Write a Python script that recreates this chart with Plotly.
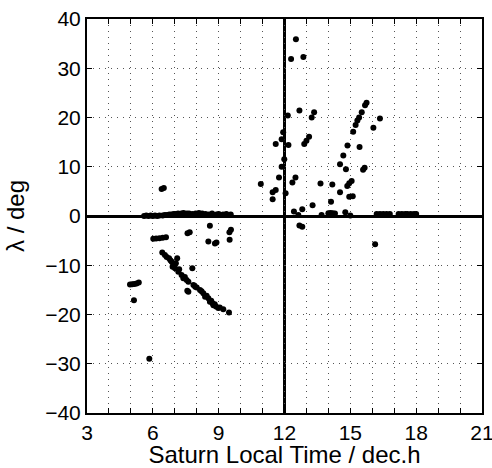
import plotly.graph_objects as go

# Saturn local time (dec. h) and latitude (deg) of the events
local_time = [
    # dawn side, near equator
    5.6, 5.7, 5.8, 5.9, 6.0, 6.1, 6.2, 6.3, 6.45, 6.55, 6.65, 6.75, 6.85, 6.95,
    7.05, 7.15, 7.3, 7.4, 7.55, 7.65, 7.8, 7.95, 8.1, 8.25, 8.4, 8.55, 8.7,
    8.9, 9.0, 9.2, 9.35, 9.55,
    # dawn side, off equator
    5.84, 4.96, 5.06, 5.16, 5.26, 5.36, 5.14,
    6.02, 6.15, 6.3, 6.45, 6.6, 6.4, 6.5,
    7.58, 7.68, 8.6, 8.53, 8.83, 8.9, 9.49, 9.56, 9.5,
    # dawn side, southward track
    6.43, 6.55, 6.63, 6.74, 6.8, 6.86, 6.9, 6.93, 7.01, 7.11, 7.05, 7.16,
    7.2, 7.31, 7.39, 7.46, 7.54, 7.62, 7.8, 7.85, 7.93, 7.57, 7.62, 8.0,
    8.15, 8.22, 8.3, 8.38, 8.45, 8.53, 8.6, 8.66, 8.72, 8.76, 8.82, 8.88,
    8.98, 9.05, 9.21, 9.47,
    # noon / afternoon side
    12.52, 12.3, 12.86, 12.15, 12.68, 13.24, 13.35,
    11.94, 11.87, 11.6, 12.18, 12.9, 13.0, 13.12,
    11.99, 11.87, 11.75, 12.5, 12.36, 10.92,
    11.46, 11.6, 12.05, 11.46,
    12.43, 12.63, 12.81, 12.68, 12.81,
    13.28, 13.64, 13.69, 14.18, 14.12, 14.53, 14.53, 14.68, 14.8, 14.87,
    14.0, 14.1, 14.2, 14.3, 14.77, 15.0,
    14.86, 14.95, 15.06, 14.95, 15.11,
    15.13, 15.24, 15.32, 15.4, 15.52, 15.67, 15.74,
    15.42, 15.58, 15.65, 16.05, 16.35, 16.13,
    # dusk side, near equator
    16.2, 16.35, 16.5, 16.65, 16.8, 17.2, 17.35, 17.5, 17.6, 17.75, 17.9, 18.0,
]
latitude = [
    0.0, 0.1, 0.0, 0.1, 0.0, 0.1, 0.0, 0.1, 0.1, 0.2, 0.2, 0.3, 0.3, 0.4,
    0.4, 0.5, 0.5, 0.6, 0.5, 0.5, 0.4, 0.5, 0.6, 0.5, 0.4, 0.3, 0.5,
    0.3, 0.4, 0.3, 0.4, 0.3,
    -29.0, -13.9, -13.85, -13.8, -13.7, -13.5, -17.1,
    -4.6, -4.55, -4.5, -4.4, -4.3, 5.5, 5.7,
    -3.5, -3.3, -2.0, -5.2, -5.6, -5.4, -3.3, -2.8, -4.8,
    -7.4, -7.9, -8.3, -8.6, -9.0, -9.3, -10.3, -10.0, -10.6, -8.6, -9.6, -11.3,
    -10.8, -12.0, -12.65, -12.4, -13.0, -13.35, -10.6, -14.0, -14.35, -15.2, -15.4, -14.5,
    -15.0, -15.3, -15.7, -16.4, -16.2, -16.7, -17.4, -17.2, -17.7, -18.1, -17.9, -18.4,
    -18.7, -18.6, -18.95, -19.6,
    35.9, 31.9, 32.3, 20.4, 21.4, 20.0, 21.05,
    17.0, 15.6, 14.6, 14.4, 14.6, 15.3, 16.1,
    11.5, 10.0, 7.8, 7.8, 6.8, 6.5,
    4.8, 5.3, 4.6, 3.4,
    0.9, 0.2, 1.35, -1.95, -2.2,
    2.2, 6.6, 0.2, 6.4, 2.9, 4.8, 10.5, 12.3, 9.5, 14.3,
    0.55, 0.6, 0.55, 0.5, 0.75, 0.1,
    6.1, 6.65, 7.1, 3.9, 4.0,
    17.1, 18.5, 19.4, 20.0, 21.05, 22.5, 23.0,
    14.0, 9.4, 9.8, 17.9, 19.8, -5.75,
    0.4, 0.4, 0.4, 0.4, 0.4, 0.4, 0.4, 0.4, 0.4, 0.4, 0.4, 0.4,
]

x_ticks = list(range(3, 22))
x_labels = [str(h) if h % 3 == 0 else "" for h in x_ticks]
y_ticks = list(range(-40, 41, 10))
NOON = 12

fig = go.Figure(go.Scatter(
    x=local_time, y=latitude, mode="markers",
    marker=dict(color="black", size=6),
    showlegend=False,
))

# thick noon meridian
fig.add_shape(type="line", xref="x", yref="paper", x0=NOON, x1=NOON, y0=0, y1=1,
              line=dict(color="black", width=3), layer="below")

axis_style = dict(
    showline=True, linecolor="black", linewidth=2, mirror="ticks",
    ticks="inside", ticklen=5, tickcolor="black", tickwidth=1,
    showgrid=True, gridcolor="#555", gridwidth=1, griddash="1px,5px",
    tickfont=dict(size=21, color="black"), automargin=False,
    ticklabeloverflow="allow",
)

fig.update_layout(
    width=492, height=468,
    margin=dict(l=87, r=10, t=19, b=55),
    plot_bgcolor="white", paper_bgcolor="white",
    font=dict(family="Liberation Sans, Arial, sans-serif", size=20, color="black"),
    xaxis=dict(axis_style, range=[3, 21], tickvals=x_ticks, ticktext=x_labels,
               zeroline=False,
               title=dict(text="Saturn Local Time / dec.h", standoff=3)),
    yaxis=dict(axis_style, range=[-40, 40], tickvals=y_ticks,
               zeroline=True, zerolinecolor="black", zerolinewidth=3,
               title=dict(text="λ / deg", standoff=14)),
)

# page body margin would push the fixed-size figure off the window
fig.write_html("out.html", config={"displayModeBar": False},
               post_script="document.body.style.margin='0';document.body.style.overflow='hidden';")
